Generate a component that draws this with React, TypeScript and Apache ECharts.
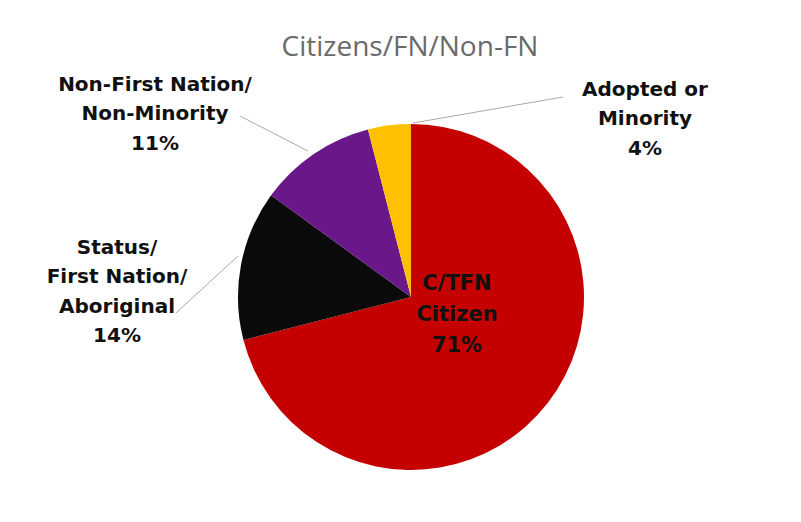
import React, { useEffect, useRef } from "react";
import * as echarts from "echarts";

const titleText = "Citizens/FN/Non-FN";
const categories = [
  "C/TFN\nCitizen",
  "Status/\nFirst Nation/\nAboriginal",
  "Non-First Nation/\nNon-Minority",
  "Adopted or\nMinority",
];
const values = [71, 14, 11, 4];
const colors = ["#C40000", "#0A0A0A", "#6A1889", "#FFC000"];
const labelPositions = [
  [457, 314],
  [117, 291],
  [155, 113],
  [645, 118],
];
const leaderLines: (number[][] | null)[] = [
  null,
  [[238, 256], [176, 313]],
  [[308, 151], [240, 116]],
  [[413, 123], [563, 97]],
];

export default function App() {
  const ref = useRef<HTMLDivElement>(null);
  useEffect(() => {
    if (!ref.current) return;
    const chart = echarts.init(ref.current, null, { renderer: "svg" });
    chart.setOption({
      animation: false,
      backgroundColor: "#ffffff",
      title: {
        text: titleText,
        left: 410,
        top: 31,
        textAlign: "center",
        padding: 0,
        textStyle: {
          fontFamily: "Open Sans",
          fontSize: 28,
          fontWeight: "normal",
          color: "#6a6a6a",
        },
      },
      series: [
        {
          type: "pie",
          center: [411, 297],
          radius: [0, 173],
          startAngle: 90,
          clockwise: true,
          data: categories.map((name, i) => ({
            name,
            value: values[i],
            itemStyle: { color: colors[i] },
            label:
              i === 0
                ? { position: "inside", fontSize: 21, lineHeight: 31 }
                : { position: "outside" },
          })),
          label: {
            show: true,
            formatter: "{b}\n{c}%",
            fontFamily: "DejaVu Sans",
            fontWeight: "bold",
            fontSize: 20,
            lineHeight: 29.5,
            color: "#111111",
            align: "center",
          },
          labelLine: {
            show: true,
            length: 20,
            length2: 20,
            lineStyle: { color: "#a8a8a8", width: 1 },
          },
          labelLayout: (params: any) => {
            const p = labelPositions[params.dataIndex];
            const out: any = {
              x: p[0],
              y: p[1],
              align: "center",
              verticalAlign: "middle",
            };
            const l = leaderLines[params.dataIndex];
            if (l) out.labelLinePoints = l;
            return out;
          },
          emphasis: { disabled: true },
        },
      ],
    });
    return () => chart.dispose();
  }, []);
  return (
    <div
      ref={ref}
      style={{ position: "fixed", left: 0, top: 0, width: 801, height: 522 }}
    />
  );
}
